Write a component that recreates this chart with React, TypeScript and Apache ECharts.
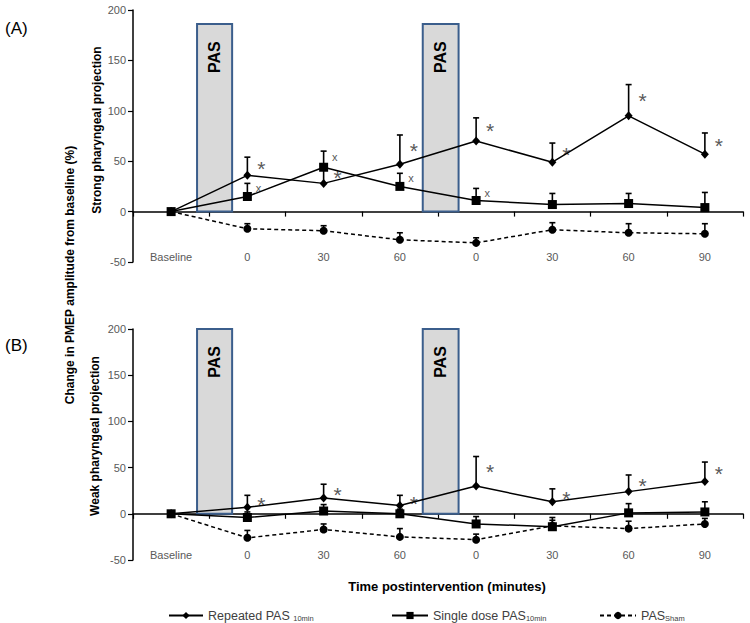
import React, { useEffect, useRef } from 'react';
import * as echarts from 'echarts';

// ---- categories / tick labels ----
const timeLabels = ['Baseline', '0', '30', '60', '0', '30', '60', '90'];
const yTicksMin = -50;
const yTicksMax = 200;
const yTickStep = 50;

// ---- series names / legend labels ----
const seriesNames = ['Repeated PAS 10min', 'Single dose PAS 10min', 'PAS Sham'];
const legendLabels = ['Repeated PAS {s|10min}', 'Single dose PAS{s|10min}', 'PAS{s|Sham}'];

// ---- Panel A: strong pharyngeal projection (mean, upper error bar end) ----
const repeatedA = [0, 36, 28, 47, 70, 49, 95, 57];
const repeatedAErr = [null, 54, 45, 76, 93, 68, 126, 78];
const singleA = [0, 15, 44, 25, 11, 7, 8, 4];
const singleAErr = [null, 28, 60, 38, 23, 18, 18, 19];
const shamA = [0, -17, -19, -28, -31, -18, -21, -22];
const shamAErr = [null, -12, -14, -21, -26, -11, -12, -12];
const repeatedAMarks = ['', '*', '*', '*', '*', '*', '*', '*'];
const singleAMarks = ['', 'x', 'x', 'x', 'x', '', '', ''];

// ---- Panel B: weak pharyngeal projection ----
const repeatedB = [0, 7, 17, 9, 30, 13, 24, 35];
const repeatedBErr = [null, 20, 32, 20, 62, 27, 42, 56];
const singleB = [0, -4, 3, 0, -11, -14, 1, 2];
const singleBErr = [null, 2, 10, 5, -3, -4, 11, 13];
const shamB = [0, -26, -17, -25, -28, -13, -16, -11];
const shamBErr = [null, -18, -11, -16, -22, -7, -8, -5];
const repeatedBMarks = ['', '*', '*', '*', '*', '*', '*', '*'];
const noMarks = ['', '', '', '', '', '', '', ''];

// ---- PAS intervention windows (category-index units) ----
const pasStart = [0.34, 3.3];
const pasEnd = [0.8, 3.77];
const pasTopA = 186;
const pasTopB = 200;

const FONT = 'Liberation Sans';
const GREY = '#595959';

function lineSeries(name: string, gi: number, data: number[], kind: 'rep' | 'single' | 'sham') {
  const base: any = {
    type: 'line',
    name,
    xAxisIndex: gi * 2,
    yAxisIndex: gi,
    data,
    z: kind === 'single' ? 5 : 4,
    itemStyle: { color: '#000' },
    lineStyle: { color: '#000', width: 1.5 },
    emphasis: { disabled: true },
  };
  if (kind === 'rep') {
    base.symbol = 'diamond';
    base.symbolSize = [8, 9];
  } else if (kind === 'single') {
    base.symbol = 'rect';
    base.symbolSize = 9;
  } else {
    base.symbol = 'circle';
    base.symbolSize = 8;
    base.lineStyle = { color: '#000', width: 1.5, type: [4, 3] };
  }
  return base;
}

function errorSeries(gi: number, values: number[], tops: (number | null)[], marks: string[]) {
  return {
    type: 'custom',
    xAxisIndex: gi * 2,
    yAxisIndex: gi,
    silent: true,
    z: 3,
    data: values.map((v, i) => [i, v, tops[i] == null ? v : tops[i]]),
    renderItem: (params: any, api: any) => {
      const i = api.value(0);
      const v = api.value(1);
      const t = api.value(2);
      const p = api.coord([i, v]);
      const q = api.coord([i, t]);
      const children: any[] = [];
      if (tops[i] != null) {
        children.push({
          type: 'line',
          shape: { x1: p[0], y1: p[1], x2: q[0], y2: q[1] },
          style: { stroke: '#000', lineWidth: 1.6 },
        });
        children.push({
          type: 'line',
          shape: { x1: q[0] - 3, y1: q[1], x2: q[0] + 3, y2: q[1] },
          style: { stroke: '#000', lineWidth: 1.6 },
        });
      }
      const mk = marks[i];
      if (mk) {
        const m = api.coord([i, v + (t - v) * 0.65]);
        const star = mk === '*';
        children.push({
          type: 'text',
          x: m[0] + (star ? 14 : 11),
          y: m[1] + (star ? 5 : 0),
          style: {
            text: mk,
            fill: GREY,
            font: star ? `normal 21px ${FONT}` : `normal 11px ${FONT}`,
            textAlign: 'center',
            textVerticalAlign: 'middle',
          },
        });
      }
      return { type: 'group', children };
    },
  };
}

function pasSeries(gi: number, top: number) {
  return {
    type: 'custom',
    xAxisIndex: gi * 2 + 1,
    yAxisIndex: gi,
    silent: true,
    z: 1,
    data: pasStart.map((s, k) => [s, top, pasEnd[k]]),
    renderItem: (params: any, api: any) => {
      const s = api.value(0);
      const tp = api.value(1);
      const e = api.value(2);
      const a = api.coord([s, tp]);
      const b = api.coord([e, 0]);
      return {
        type: 'group',
        children: [
          {
            type: 'rect',
            shape: { x: a[0], y: a[1], width: b[0] - a[0], height: b[1] - a[1] },
            style: { fill: '#d9d9d9', stroke: '#3b5e8c', lineWidth: 2 },
          },
          {
            type: 'text',
            x: (a[0] + b[0]) / 2,
            y: a[1] + 33,
            rotation: Math.PI / 2,
            style: {
              text: 'PAS',
              fill: '#000',
              font: `bold 16px ${FONT}`,
              textAlign: 'center',
              textVerticalAlign: 'middle',
            },
          },
        ],
      };
    },
  };
}

function xAxes(gi: number, labelMargin: number) {
  return [
    {
      type: 'category',
      gridIndex: gi,
      data: timeLabels,
      boundaryGap: true,
      axisLine: { onZero: true, lineStyle: { color: '#000', width: 1.5 } },
      axisTick: { show: true, length: 5, lineStyle: { color: '#000', width: 1.2 } },
      axisLabel: { margin: labelMargin, color: GREY, fontSize: 11, fontFamily: FONT },
      splitLine: { show: false },
    },
    {
      type: 'value',
      gridIndex: gi,
      min: -0.5,
      max: 7.5,
      show: false,
      axisLine: { onZero: false },
      splitLine: { show: false },
    },
  ];
}

function yAxis(gi: number) {
  return {
    type: 'value',
    gridIndex: gi,
    min: yTicksMin,
    max: yTicksMax,
    interval: yTickStep,
    axisLine: { show: true, onZero: false, lineStyle: { color: '#000', width: 1.5 } },
    axisTick: { show: true, length: 5, lineStyle: { color: '#000', width: 1.2 } },
    axisLabel: { color: GREY, fontSize: 11, fontFamily: FONT, margin: 7 },
    splitLine: { show: false },
  };
}

function legendAt(k: number, left: number, itemWidth: number) {
  return {
    data: [seriesNames[k]],
    left,
    top: 604,
    itemWidth,
    itemHeight: 9,
    selectedMode: false,
    formatter: () => legendLabels[k],
    textStyle: {
      color: '#404040',
      fontSize: 12.5,
      fontFamily: FONT,
      rich: {
        s: { fontSize: 7.5, color: '#404040', fontFamily: FONT, verticalAlign: 'bottom' },
      },
    },
  };
}

export default function App() {
  const ref = useRef<HTMLDivElement>(null);
  useEffect(() => {
    if (!ref.current) return;
    const chart = echarts.init(ref.current, undefined, { renderer: 'svg' });
    const option: any = {
      animation: false,
      backgroundColor: '#fff',
      textStyle: { fontFamily: FONT },
      grid: [
        { left: 133, top: 10, width: 610, height: 252 },
        { left: 133, top: 329, width: 610, height: 231 },
      ],
      xAxis: [...xAxes(0, -11), ...xAxes(1, -11)],
      yAxis: [yAxis(0), yAxis(1)],
      legend: [legendAt(0, 163, 34), legendAt(1, 386, 36), legendAt(2, 594, 36)],
      graphic: [
        { type: 'text', left: 5, top: 20, style: { text: '(A)', fill: '#000', font: `normal 17px ${FONT}` } },
        { type: 'text', left: 5, top: 337, style: { text: '(B)', fill: '#000', font: `normal 17px ${FONT}` } },
        {
          type: 'text', x: 97, y: 130, rotation: Math.PI / 2,
          style: { text: 'Strong pharyngeal projection', fill: '#000', font: `bold 12px ${FONT}`, textAlign: 'center', textVerticalAlign: 'middle' },
        },
        {
          type: 'text', x: 95, y: 436, rotation: Math.PI / 2,
          style: { text: 'Weak pharyngeal projection', fill: '#000', font: `bold 12px ${FONT}`, textAlign: 'center', textVerticalAlign: 'middle' },
        },
        {
          type: 'text', x: 70, y: 275, rotation: Math.PI / 2,
          style: { text: 'Change in PMEP amplitude from baseline (%)', fill: '#000', font: `bold 12px ${FONT}`, textAlign: 'center', textVerticalAlign: 'middle' },
        },
        {
          type: 'text', x: 447, y: 586,
          style: { text: 'Time postintervention (minutes)', fill: '#000', font: `bold 13px ${FONT}`, textAlign: 'center', textVerticalAlign: 'middle' },
        },
      ],
      series: [
        pasSeries(0, pasTopA),
        pasSeries(1, pasTopB),
        errorSeries(0, repeatedA, repeatedAErr, repeatedAMarks),
        errorSeries(0, singleA, singleAErr, singleAMarks),
        errorSeries(0, shamA, shamAErr, noMarks),
        errorSeries(1, repeatedB, repeatedBErr, repeatedBMarks),
        errorSeries(1, singleB, singleBErr, noMarks),
        errorSeries(1, shamB, shamBErr, noMarks),
        lineSeries(seriesNames[2], 0, shamA, 'sham'),
        lineSeries(seriesNames[0], 0, repeatedA, 'rep'),
        lineSeries(seriesNames[1], 0, singleA, 'single'),
        lineSeries(seriesNames[2], 1, shamB, 'sham'),
        lineSeries(seriesNames[0], 1, repeatedB, 'rep'),
        lineSeries(seriesNames[1], 1, singleB, 'single'),
      ],
    };
    chart.setOption(option);
    return () => chart.dispose();
  }, []);
  return <div ref={ref} style={{ position: 'absolute', left: 0, top: 0, width: 750, height: 623 }} />;
}
